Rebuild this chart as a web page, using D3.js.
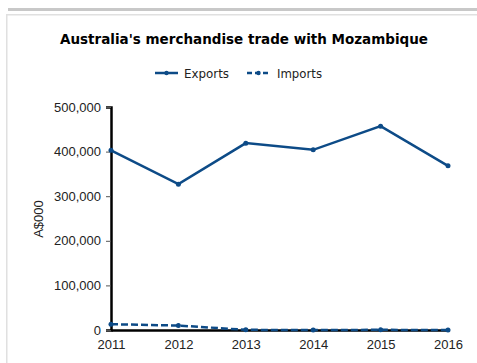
<!DOCTYPE html>
<html>
<head>
<meta charset="utf-8">
<script src="https://cdn.jsdelivr.net/npm/d3@7"></script>
<style>
  html, body { margin: 0; padding: 0; background: #fff; }
  svg { display: block; }
</style>
</head>
<body>
<svg id="chart" width="477" height="363"></svg>
<script>
const years = [2011, 2012, 2013, 2014, 2015, 2016];
const exportsValues = [403000, 327000, 419000, 404000, 457000, 368000];
const importsValues = [13000, 10000, 300, 200, 300, 200];
const yTicks = [0, 100000, 200000, 300000, 400000, 500000];
const seriesNames = ["Exports", "Imports"];

const lineColor = "#0d4b87";
const svg = d3.select("#chart");

// panel frame
svg.append("rect").attr("x", 8).attr("y", 8).attr("width", 469).attr("height", 3).attr("fill", "#c8c8c8");
svg.append("rect").attr("x", 6).attr("y", 14).attr("width", 471).attr("height", 1.5).attr("fill", "#e0e0e0");
svg.append("rect").attr("x", 6).attr("y", 14).attr("width", 1.5).attr("height", 349).attr("fill", "#e0e0e0");

const x = d3.scalePoint().domain(years).range([111, 448]);
const y = d3.scaleLinear().domain([0, 500000]).range([330, 107]);

svg.append("text")
  .attr("x", 244).attr("y", 44)
  .attr("text-anchor", "middle")
  .attr("font-family", "Verdana, 'DejaVu Sans', sans-serif")
  .attr("font-weight", "bold")
  .attr("font-size", 14)
  .attr("textLength", 368)
  .attr("lengthAdjust", "spacingAndGlyphs")
  .attr("fill", "#000")
  .text("Australia's merchandise trade with Mozambique");

// legend
const legend = [
  { name: seriesNames[0], x0: 155, dash: null, tx: 184 },
  { name: seriesNames[1], x0: 247, dash: "5,3", tx: 277 }
];
legend.forEach(l => {
  svg.append("line").attr("x1", l.x0).attr("x2", l.x0 + 23).attr("y1", 73).attr("y2", 73)
    .attr("stroke", lineColor).attr("stroke-width", 2.5).attr("stroke-dasharray", l.dash);
  svg.append("circle").attr("cx", l.x0 + 11.5).attr("cy", 73).attr("r", 2.2).attr("fill", lineColor);
  svg.append("text").attr("x", l.tx).attr("y", 77.5)
    .attr("font-family", "'DejaVu Sans', Verdana, sans-serif").attr("font-size", 12)
    .attr("textLength", 45).attr("lengthAdjust", "spacingAndGlyphs")
    .attr("fill", "#222").text(l.name);
});

// axes
const yAxis = svg.append("g").attr("transform", "translate(111,0)")
  .call(d3.axisLeft(y).tickValues(yTicks).tickSize(5).tickFormat(d3.format(",")));
const xAxis = svg.append("g").attr("transform", "translate(0,330)")
  .call(d3.axisBottom(x).tickSize(0).tickPadding(10).tickFormat(d3.format("d")));

[yAxis, xAxis].forEach(g => {
  g.selectAll("text").attr("font-family", "'Liberation Sans', Arial, sans-serif")
    .attr("font-size", 13).attr("fill", "#222");
});
yAxis.select(".domain").attr("stroke", "#000").attr("stroke-width", 2.5);
yAxis.selectAll(".tick line").attr("stroke", "#555");
yAxis.selectAll(".tick text").attr("dx", "-2");
xAxis.select(".domain").attr("stroke", "#000").attr("stroke-width", 2.5);

svg.append("text")
  .attr("transform", "translate(43,219) rotate(-90)")
  .attr("text-anchor", "middle")
  .attr("font-family", "'Liberation Sans', Arial, sans-serif")
  .attr("font-size", 13).attr("fill", "#222")
  .text("A$000");

// series
const line = d3.line().x((d, i) => x(years[i])).y(d => y(d));
const series = [
  { values: exportsValues, dash: null },
  { values: importsValues, dash: "7,3" }
];
series.forEach(s => {
  svg.append("path").attr("d", line(s.values)).attr("fill", "none")
    .attr("stroke", lineColor).attr("stroke-width", 2.5).attr("stroke-dasharray", s.dash);
  svg.selectAll(null).data(s.values).enter().append("circle")
    .attr("cx", (d, i) => x(years[i])).attr("cy", d => y(d)).attr("r", 2.5)
    .attr("fill", lineColor);
});
</script>
</body>
</html>
